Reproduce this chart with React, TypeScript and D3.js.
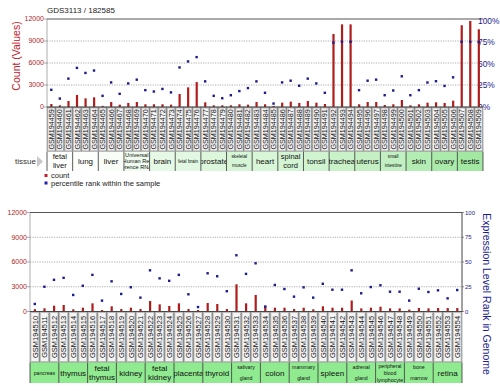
import React from 'react';
import * as d3 from 'd3';

const topSamples = ['GSM194459','GSM194460','GSM194461','GSM194462','GSM194463','GSM194464','GSM194465','GSM194466','GSM194467','GSM194468','GSM194469','GSM194470','GSM194471','GSM194472','GSM194473','GSM194474','GSM194475','GSM194476','GSM194477','GSM194478','GSM194479','GSM194480','GSM194481','GSM194482','GSM194483','GSM194484','GSM194485','GSM194486','GSM194487','GSM194488','GSM194489','GSM194490','GSM194491','GSM194492','GSM194493','GSM194494','GSM194495','GSM194496','GSM194497','GSM194498','GSM194499','GSM194500','GSM194501','GSM194502','GSM194503','GSM194504','GSM194505','GSM194506','GSM194507','GSM194508','GSM194509'];
const topCounts = [409,230,820,1640,1180,1320,150,680,320,550,680,370,370,370,320,1770,2680,3400,640,230,230,230,370,320,680,370,150,590,730,550,820,590,410,9960,11270,11270,370,680,680,270,370,955,230,370,590,640,550,860,11150,11730,10600];
const topRanks = [20,9.8,33,45.5,39.6,42.4,13,28.6,15.3,27.4,31.8,19.6,18,21,17,46,53,58,29.8,13,10.2,13.7,18.5,22,29.8,16.5,4,28.6,30.6,24.7,33,27.4,16.5,74.8,75.8,75.8,19.6,30.6,31.8,13.7,19.2,35.7,13.7,19.6,28.5,30,24.5,34.5,75.8,75.8,75.6];
const topTissues = ['fetal liver','lung','liver','Universal Human Reference RNA','brain','fetal brain','prostate','skeletal muscle','heart','spinal cord','tonsil','trachea','uterus','small intestine','skin','ovary','testis'];

const bottomSamples = ['GSM194510','GSM194511','GSM194512','GSM194513','GSM194514','GSM194515','GSM194516','GSM194517','GSM194518','GSM194519','GSM194520','GSM194521','GSM194522','GSM194523','GSM194524','GSM194525','GSM194526','GSM194527','GSM194528','GSM194529','GSM194530','GSM194531','GSM194532','GSM194533','GSM194534','GSM194535','GSM194536','GSM194537','GSM194538','GSM194539','GSM194540','GSM194541','GSM194542','GSM194543','GSM194544','GSM194545','GSM194546','GSM194547','GSM194548','GSM194549','GSM194550','GSM194551','GSM194552','GSM194553','GSM194554'];
const bottomCounts = [280,390,700,790,270,460,990,180,630,300,460,300,1270,870,670,990,300,180,1030,910,300,3300,990,2000,700,460,460,300,460,270,630,460,460,1330,380,460,580,380,380,230,420,380,420,420,420];
const bottomRanks = [7.6,25,32,34,16.7,26,37,11,30.5,17.7,24.5,14,41.6,33.5,31,37,17.4,4.5,38.6,35.6,20.5,56.8,38,48.7,4.9,26.8,22.7,15,24.4,14,28,22,22,41.6,18.4,24.7,26.5,20,20,11,23,19.7,21.4,13.3,21.7];
const bottomTissues = ['pancreas','thymus','fetal thymus','kidney','fetal kidney','placenta','thyroid','salivary gland','colon','mammary gland','spleen','adrenal gland','peripheral blood lymphocyte','bone marrow','retina'];

const countTicks = [0, 3000, 6000, 9000, 12000];
const pctTicks = [0, 25, 50, 75, 100];

// presentation
const topFills = ['#ffffff','#fdfffd','#f8fdf8','#eefbee','#e6f9e6','#e2f8e2','#dcf7dc','#d6f5d6','#d8f6d8','#d4f5d4','#d0f4d0','#c9f2c9','#c4f0c4','#c2f0c2','#b4edb4','#aaeaaa','#a2e8a2'];
const bottomFill = '#90ea90';
const tissueStyle: Record<string, { lines: string[]; size: number; gap: number }> = {
  'fetal liver': { lines: ['fetal', 'liver'], size: 7.5, gap: 9 },
  'Universal Human Reference RNA': { lines: ['Universal', 'Human Ref', 'erence RNA'], size: 5.6, gap: 6 },
  'fetal brain': { lines: ['fetal brain'], size: 4.6, gap: 0 },
  'skeletal muscle': { lines: ['skeletal', 'muscle'], size: 4.6, gap: 9 },
  'spinal cord': { lines: ['spinal', 'cord'], size: 7.5, gap: 9 },
  'small intestine': { lines: ['small', 'intestine'], size: 4.6, gap: 9 },
  'pancreas': { lines: ['pancreas'], size: 5.2, gap: 0 },
  'fetal thymus': { lines: ['fetal', 'thymus'], size: 8, gap: 9.5 },
  'fetal kidney': { lines: ['fetal', 'kidney'], size: 8, gap: 9.5 },
  'salivary gland': { lines: ['salivary', 'gland'], size: 5.2, gap: 11 },
  'mammary gland': { lines: ['mammary', 'gland'], size: 5.2, gap: 11 },
  'adrenal gland': { lines: ['adrenal', 'gland'], size: 5.2, gap: 11 },
  'peripheral blood lymphocyte': { lines: ['peripheral', 'blood', 'lymphocyte'], size: 5.2, gap: 7 },
  'bone marrow': { lines: ['bone', 'marrow'], size: 5.2, gap: 11 },
};
const FONT = '"Liberation Sans", Arial, sans-serif';
const RED = '#b0262a';
const BLUE = '#1c1c8c';
const BAR = '#b01c1c';

type PanelProps = {
  id: string;
  samples: string[];
  counts: number[];
  ranks: number[];
  tissues: string[];
  x0: number; x1: number;
  yTop: number; yBase: number;
  labelBottom: number; tissueBottom: number;
  fills: string[];
  labelFont: number;
  rightAxis: 'pct' | 'num';
};

function Panel(p: PanelProps) {
  const x = d3.scaleBand<string>().domain(p.samples).range([p.x0, p.x1]);
  const y = d3.scaleLinear().domain([0, 12000]).range([p.yBase, p.yTop]);
  const yr = d3.scaleLinear().domain([0, 100]).range([p.yBase, p.yTop + (p.rightAxis === 'pct' ? 2 : 0)]);
  const bw = x.bandwidth();
  const groupW = bw * 3;
  return (
    <g>
      {countTicks.filter(t => t > 0 && t < 12000).map(t => (
        <line key={t} x1={p.x0} x2={p.x1} y1={y(t)} y2={y(t)} stroke="#9a9a9a" strokeWidth={0.8} strokeDasharray="1.2,1.2" />
      ))}
      <line x1={p.x0} x2={p.x1} y1={p.yTop} y2={p.yTop} stroke="#555" strokeWidth={1} />
      <line x1={p.x0} x2={p.x0} y1={p.yTop} y2={p.yBase} stroke="#777" strokeWidth={0.6} />
      {p.rightAxis === 'num' && (
        <line x1={p.x1} x2={p.x1} y1={p.yTop} y2={p.yBase} stroke="#444" strokeWidth={1} />
      )}
      {countTicks.map(t => (
        <g key={t}>
          <line x1={p.x0 - 3} x2={p.x0} y1={y(t)} y2={y(t)} stroke="#777" strokeWidth={0.6} />
          <text x={p.x0 - 3} y={y(t)} dy="0.35em" textAnchor="end" fontSize={7} fill={RED} fontFamily={FONT}>{t}</text>
        </g>
      ))}
      {pctTicks.map(t => p.rightAxis === 'pct' ? (
        <text key={t} x={p.x1 - 5} y={yr(t)} dy="0.35em" fontSize={8.4} fill={BLUE} fontFamily={FONT}>{t}%</text>
      ) : (
        <g key={t}>
          <line x1={p.x1} x2={p.x1 + 2} y1={yr(t)} y2={yr(t)} stroke="#444" strokeWidth={0.6} />
          <text x={p.x1 + 3} y={yr(t)} dy="0.35em" fontSize={6} fill={BLUE} fontFamily={FONT}>{t}</text>
        </g>
      ))}
      {p.samples.map((s, i) => (
        <rect key={s} x={(x(s) as number) + bw / 2 - 1} width={2.2} y={y(p.counts[i])} height={p.yBase - y(p.counts[i])} fill={BAR} />
      ))}
      {p.samples.map((s, i) => (
        <rect key={'d' + s} x={(x(s) as number) + bw / 2 - 1.2} y={yr(p.ranks[i]) - 1.2} width={2.4} height={2.4} fill={BLUE} />
      ))}
      {p.samples.map((s, i) => {
        const cx = (x(s) as number);
        const mid = (p.yBase + p.labelBottom) / 2;
        return (
          <g key={'l' + s}>
            <rect x={cx} y={p.yBase} width={bw} height={p.labelBottom - p.yBase} fill="#bcbcbc" stroke="#6a6a6a" strokeWidth={0.5} />
            <rect x={cx + 1.3} y={p.yBase + 1.5} width={bw - 2.6} height={p.labelBottom - p.yBase - 3} fill="#f4f4f4" />
            <text transform={`translate(${cx + bw / 2},${mid}) rotate(-90)`} dy="0.36em" textAnchor="middle" fontSize={p.labelFont} fill="#111" fontFamily={FONT}>{s}</text>
          </g>
        );
      })}
      <line x1={p.x0} x2={p.x1} y1={p.yBase} y2={p.yBase} stroke="#333" strokeWidth={0.8} />
      <defs>
        {p.tissues.map((t, i) => (
          <clipPath key={t} id={`${p.id}-c${i}`}>
            <rect x={p.x0 + i * groupW} y={p.labelBottom} width={groupW} height={p.tissueBottom - p.labelBottom} />
          </clipPath>
        ))}
      </defs>
      {p.tissues.map((t, i) => {
        const gx = p.x0 + i * groupW;
        const st = tissueStyle[t] || { lines: [t], size: 8, gap: 0 };
        const cy = (p.labelBottom + p.tissueBottom) / 2;
        const n = st.lines.length;
        return (
          <g key={t}>
            <rect x={gx} y={p.labelBottom} width={groupW} height={p.tissueBottom - p.labelBottom} fill={p.fills[i]} />
            <line x1={gx} x2={gx} y1={p.labelBottom} y2={p.tissueBottom} stroke="#333" strokeWidth={0.8} />
            <g clipPath={`url(#${p.id}-c${i})`}>
              {st.lines.map((ln, k) => (
                <text key={k} x={gx + groupW / 2} y={cy + (k - (n - 1) / 2) * st.gap} dy="0.35em" textAnchor="middle" fontSize={st.size} fill="#111" fontFamily={FONT}>{ln}</text>
              ))}
            </g>
          </g>
        );
      })}
      <line x1={p.x1} x2={p.x1} y1={p.labelBottom} y2={p.tissueBottom} stroke="#333" strokeWidth={0.8} />
    </g>
  );
}

export default function App() {
  return (
    <div style={{ position: 'absolute', left: 0, top: 0, width: 500, height: 391, background: '#fff' }}>
      <svg width={500} height={391} viewBox="0 0 500 391" style={{ display: 'block' }}>
        <rect width={500} height={391} fill="#fff" />
        <text x={47} y={10} dy="0.35em" fontSize={8} fill="#222" fontFamily={FONT}>GDS3113 / 182585</text>
        <text transform="translate(16.5,56) rotate(-90)" dy="0.35em" textAnchor="middle" fontSize={10.5} fill="#c4202a" fontFamily={FONT}>Count (Values)</text>
        <Panel id="top" samples={topSamples} counts={topCounts} ranks={topRanks} tissues={topTissues}
          x0={47} x1={483} yTop={19} yBase={107} labelBottom={151.7} tissueBottom={171}
          fills={topFills} labelFont={7.2} rightAxis="pct" />
        <text x={36} y={161.5} dy="0.35em" textAnchor="end" fontSize={8} fill="#333" fontFamily={FONT}>tissue</text>
        <path d="M37,156 L43,161.5 L37,167 Z" fill="#c8c8c8" />
        <rect x={44.5} y={174} width={3} height={3} fill="#c4202a" />
        <text x={51} y={175.5} dy="0.35em" fontSize={7.5} fill="#222" fontFamily={FONT}>count</text>
        <rect x={44.5} y={181.5} width={3} height={3} fill="#2020b0" />
        <text x={51} y={183} dy="0.35em" fontSize={7.5} fill="#222" fontFamily={FONT}>percentile rank within the sample</text>
        <Panel id="bot" samples={bottomSamples} counts={bottomCounts} ranks={bottomRanks} tissues={bottomTissues}
          x0={30} x1={462} yTop={212.5} yBase={311.5} labelBottom={362.5} tissueBottom={383}
          fills={bottomTissues.map(() => bottomFill)} labelFont={7.5} rightAxis="num" />
        <text transform="translate(486.5,294) rotate(90)" dy="0.35em" textAnchor="middle" fontSize={10.5} fill={BLUE} fontFamily={FONT}>Expression Level Rank in Genome</text>
      </svg>
    </div>
  );
}
